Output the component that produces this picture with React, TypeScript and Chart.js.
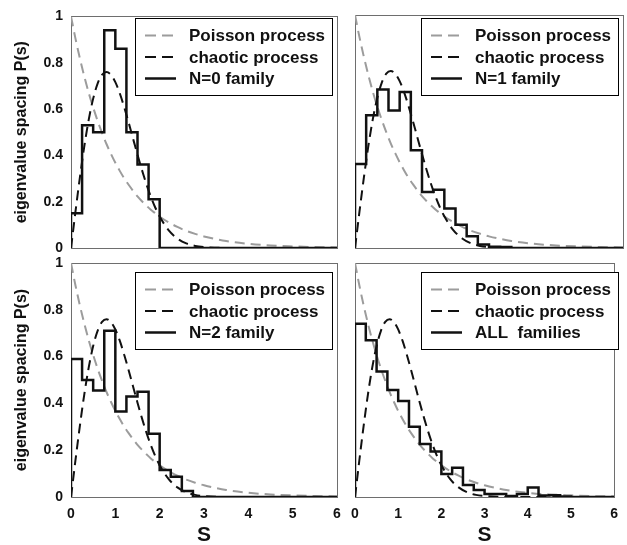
import React, { useEffect, useRef } from "react";
import { Chart, registerables } from "chart.js";

Chart.register(...registerables);

// ---------- data ----------
const binEdges = [0, 0.25, 0.5, 0.75, 1, 1.25, 1.5, 1.75, 2, 2.25, 2.5, 2.75, 3, 3.25, 3.5, 3.75, 4, 4.25, 4.5, 4.75, 5, 5.25, 5.5, 5.75, 6];

const familyN0 = [0.15, 0.53, 0.5, 0.94, 0.86, 0.5, 0.36, 0.21, 0, 0, 0, 0, 0, 0, 0, 0, 0, 0, 0, 0, 0, 0, 0, 0];
const familyN1 = [0.36, 0.57, 0.68, 0.59, 0.67, 0.42, 0.24, 0.25, 0.17, 0.1, 0.05, 0.015, 0.005, 0.004, 0, 0, 0, 0, 0, 0, 0, 0, 0, 0];
const familyN2 = [0.59, 0.5, 0.455, 0.71, 0.365, 0.43, 0.45, 0.27, 0.115, 0.087, 0.026, 0, 0, 0, 0, 0, 0, 0, 0, 0, 0, 0, 0, 0];
const familyAll = [0.74, 0.67, 0.536, 0.457, 0.41, 0.3, 0.226, 0.194, 0.098, 0.125, 0.051, 0.03, 0.013, 0.013, 0.004, 0.013, 0.041, 0.006, 0.008, 0.002, 0, 0, 0, 0];

const sGrid = [0, 0.1, 0.2, 0.3, 0.4, 0.5, 0.6, 0.7, 0.8, 0.9, 1.0, 1.1, 1.2, 1.3, 1.4, 1.5, 1.6, 1.7, 1.8, 1.9, 2.0, 2.2, 2.4, 2.6, 2.8, 3.0, 3.5, 4.0, 4.5, 5.0, 5.5, 6.0];
const poissonCurve = [1, 0.905, 0.819, 0.741, 0.67, 0.607, 0.549, 0.497, 0.449, 0.407, 0.368, 0.333, 0.301, 0.273, 0.247, 0.223, 0.202, 0.183, 0.165, 0.15, 0.135, 0.111, 0.091, 0.074, 0.061, 0.05, 0.03, 0.018, 0.011, 0.007, 0.004, 0.0025];
const chaoticCurve = [0, 0.156, 0.304, 0.439, 0.554, 0.645, 0.71, 0.748, 0.76, 0.748, 0.716, 0.668, 0.608, 0.542, 0.472, 0.403, 0.337, 0.276, 0.222, 0.175, 0.136, 0.077, 0.041, 0.02, 0.009, 0.004, 0.0003, 0, 0, 0, 0, 0];

const xTicks = [0, 1, 2, 3, 4, 5, 6];
const yTicks = [0, 0.2, 0.4, 0.6, 0.8, 1];

const seriesNames = ["Poisson process", "chaotic process"];
const familyLabels = ["N=0 family", "N=1 family", "N=2 family", "ALL  families"];
const yTitle = "eigenvalue spacing P(s)";
const xTitle = "S";

// ---------- layout ----------
const W = 627;
const H = 545;
const FONT = '"Liberation Sans", Arial, Helvetica, sans-serif';

type Box = { x: number; y: number; w: number; h: number };
type Panel = {
  label: string;
  values: number[];
  left: number;
  top: number;
  right: number;
  bottom: number;
  showX: boolean;
  showY: boolean;
  legend: Box;
};

const panels: Panel[] = [
  { label: familyLabels[0], values: familyN0, left: 71, top: 15, right: 337, bottom: 248, showX: false, showY: true, legend: { x: 135, y: 18, w: 197, h: 77 } },
  { label: familyLabels[1], values: familyN1, left: 355, top: 15, right: 623, bottom: 248, showX: false, showY: false, legend: { x: 421, y: 18, w: 197, h: 77 } },
  { label: familyLabels[2], values: familyN2, left: 71, top: 263, right: 337, bottom: 497, showX: true, showY: true, legend: { x: 135, y: 272, w: 197, h: 77 } },
  { label: familyLabels[3], values: familyAll, left: 355, top: 263, right: 623, bottom: 497, showX: true, showY: false, legend: { x: 421, y: 272, w: 197, h: 77 } },
];

const framePlugin = {
  id: "panelFrame",
  beforeDatasetsDraw(chart: any) {
    const { ctx, chartArea } = chart;
    ctx.save();
    ctx.strokeStyle = "#6e6e6e";
    ctx.lineWidth = 1;
    ctx.strokeRect(
      Math.round(chartArea.left) + 0.5,
      Math.round(chartArea.top) + 0.5,
      Math.round(chartArea.right - chartArea.left),
      Math.round(chartArea.bottom - chartArea.top)
    );
    ctx.restore();
  },
};

const boxLegendPlugin = {
  id: "boxLegend",
  afterDraw(chart: any, _args: any, opts: any) {
    const { ctx } = chart;
    const { x, y, w, h } = opts.box as Box;
    ctx.save();
    ctx.fillStyle = "#ffffff";
    ctx.fillRect(x, y, w, h);
    ctx.strokeStyle = "#000000";
    ctx.lineWidth = 1;
    ctx.strokeRect(x + 0.5, y + 0.5, w, h);
    chart.data.datasets.forEach((ds: any, i: number) => {
      const cy = y + 17.5 + i * 21.5;
      ctx.beginPath();
      ctx.setLineDash(ds.legendDash || []);
      ctx.strokeStyle = ds.borderColor;
      ctx.lineWidth = ds.borderWidth;
      ctx.moveTo(x + 10, cy);
      ctx.lineTo(x + 41, cy);
      ctx.stroke();
      ctx.setLineDash([]);
      ctx.fillStyle = "#111111";
      ctx.font = `bold 17px ${FONT}`;
      ctx.textBaseline = "middle";
      ctx.textAlign = "left";
      ctx.fillText(ds.label, x + 54, cy + 1);
    });
    ctx.restore();
  },
};

function buildConfig(p: Panel): any {
  const histPoints = [{ x: 0, y: 0 }].concat(
    binEdges.map((e, i) => ({ x: e, y: i < p.values.length ? p.values[i] : p.values[p.values.length - 1] }))
  );
  return {
    type: "line",
    data: {
      datasets: [
        {
          label: seriesNames[0],
          data: sGrid.map((s, i) => ({ x: s, y: poissonCurve[i] })),
          borderColor: "#9c9c9c",
          borderWidth: 2,
          borderDash: [10, 6],
          legendDash: [11, 6],
          pointRadius: 0,
          cubicInterpolationMode: "monotone",
          fill: false,
          order: 2,
        },
        {
          label: seriesNames[1],
          data: sGrid.map((s, i) => ({ x: s, y: chaoticCurve[i] })),
          borderColor: "#111111",
          borderWidth: 2,
          borderDash: [10, 6],
          legendDash: [11, 6],
          pointRadius: 0,
          cubicInterpolationMode: "monotone",
          fill: false,
          order: 1,
        },
        {
          label: p.label,
          data: histPoints,
          borderColor: "#111111",
          borderWidth: 2.5,
          stepped: true,
          pointRadius: 0,
          fill: false,
          order: 0,
        },
      ],
    },
    options: {
      responsive: false,
      animation: false,
      devicePixelRatio: 1,
      layout: {
        padding: {
          left: p.showY ? 0 : p.left,
          top: p.top,
          right: W - p.right,
          bottom: p.showX ? 0 : H - p.bottom,
        },
      },
      plugins: {
        legend: { display: false },
        tooltip: { enabled: false },
        boxLegend: { box: p.legend },
      },
      scales: {
        x: {
          type: "linear",
          min: 0,
          max: 6,
          display: p.showX,
          grid: { display: false, drawTicks: false },
          border: { display: false },
          afterBuildTicks: (s: any) => {
            s.ticks = xTicks.map((v) => ({ value: v }));
          },
          afterFit: (s: any) => {
            s.height = p.showX ? H - p.bottom : 0;
          },
          ticks: {
            color: "#111111",
            font: { family: FONT, size: 14, weight: "bold" },
            padding: 9,
            maxRotation: 0,
            callback: (v: any) => String(v),
          },
          title: {
            display: true,
            text: xTitle,
            color: "#111111",
            font: { family: FONT, size: 21, weight: "bold", lineHeight: 0.8 },
            padding: { top: 0, bottom: 1 },
          },
        },
        y: {
          type: "linear",
          min: 0,
          max: 1,
          display: p.showY,
          grid: { display: false, drawTicks: false },
          border: { display: false },
          afterBuildTicks: (s: any) => {
            s.ticks = yTicks.map((v) => ({ value: v }));
          },
          afterFit: (s: any) => {
            s.width = p.showY ? p.left : 0;
          },
          ticks: {
            color: "#111111",
            font: { family: FONT, size: 14, weight: "bold" },
            padding: 8,
            callback: (v: any) => String(v),
          },
          title: {
            display: true,
            text: yTitle,
            color: "#111111",
            font: { family: FONT, size: 16, weight: "bold" },
            padding: { top: 12, bottom: 0 },
          },
        },
      },
    },
    plugins: [framePlugin, boxLegendPlugin],
  };
}

export default function App() {
  const refs = useRef<(HTMLCanvasElement | null)[]>([]);
  useEffect(() => {
    const charts = panels.map((p, i) => new Chart(refs.current[i] as HTMLCanvasElement, buildConfig(p)));
    return () => {
      charts.forEach((c) => c.destroy());
    };
  }, []);
  return (
    <div style={{ position: "absolute", left: 0, top: 0, width: W, height: H, background: "#ffffff", overflow: "hidden" }}>
      {panels.map((p, i) => (
        <canvas
          key={p.label}
          ref={(el) => {
            refs.current[i] = el;
          }}
          width={W}
          height={H}
          style={{ position: "absolute", left: 0, top: 0, width: W, height: H }}
        />
      ))}
    </div>
  );
}
